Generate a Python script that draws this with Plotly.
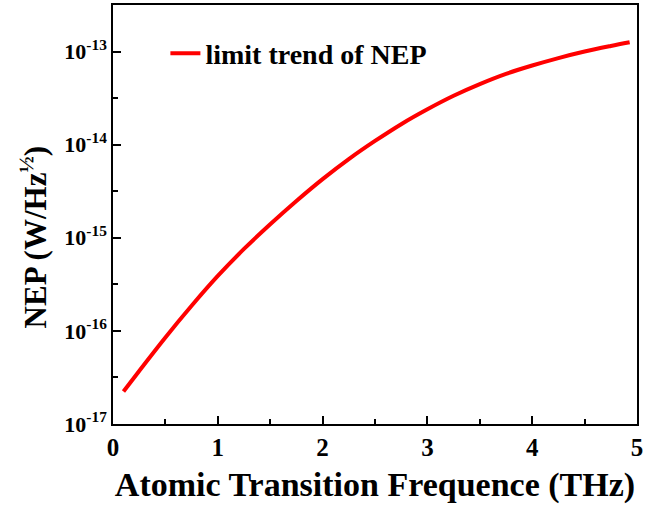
import plotly.graph_objects as go

# Atomic transition frequency (THz)
freq_thz = [0.1, 0.25, 0.5, 0.75, 1.0, 1.25, 1.5, 1.75, 2.0, 2.25, 2.5,
            2.75, 3.0, 3.25, 3.5, 3.75, 4.0, 4.25, 4.5, 4.75, 4.93]
# NEP limit trend (W/Hz^1/2)
nep = [2.239e-17, 3.715e-17, 8.51e-17, 1.862e-16, 3.89e-16, 7.586e-16,
       1.396e-15, 2.483e-15, 4.266e-15, 6.998e-15, 1.096e-14, 1.66e-14,
       2.399e-14, 3.35e-14, 4.467e-14, 5.754e-14, 7.079e-14, 8.511e-14,
       1.0e-13, 1.148e-13, 1.259e-13]

x_ticks = [0, 1, 2, 3, 4, 5]
x_ticktext = ["<b>0</b>", "<b>1</b>", "<b>2</b>", "<b>3</b>", "<b>4</b>", "<b>5</b>"]
y_ticks = [1e-17, 1e-16, 1e-15, 1e-14, 1e-13]
y_ticktext = ["<b>10<sup>-17</sup></b>", "<b>10<sup>-16</sup></b>",
              "<b>10<sup>-15</sup></b>", "<b>10<sup>-14</sup></b>",
              "<b>10<sup>-13</sup></b>"]
y_minor = [10 ** -16.5, 10 ** -15.5, 10 ** -14.5, 10 ** -13.5]

FONT = "Liberation Serif"

fig = go.Figure()
fig.add_trace(go.Scatter(
    x=freq_thz, y=nep, mode="lines", name="<b>limit trend of NEP</b>",
    line=dict(color="#FF0000", width=4, shape="spline"),
))

fig.update_layout(
    width=668, height=511,
    margin=dict(l=113, r=31, t=3, b=87),
    paper_bgcolor="white", plot_bgcolor="white",
    font=dict(family=FONT, color="black"),
    showlegend=True,
    legend=dict(x=0.1, y=0.884, xanchor="left", yanchor="middle",
                bgcolor="rgba(0,0,0,0)",
                font=dict(family=FONT, size=28, color="black")),
    annotations=[dict(
        text="<b>NEP (W/Hz<sup>½</sup>)</b>", textangle=-90,
        xref="paper", yref="paper", x=-0.151, y=0.445,
        xanchor="center", yanchor="middle", showarrow=False,
        font=dict(family=FONT, size=31, color="black"),
    )],
)

fig.update_xaxes(
    range=[0, 5], tickmode="array", tickvals=x_ticks, ticktext=x_ticktext,
    ticks="inside", ticklen=8, tickwidth=1.5, tickcolor="black",
    showline=True, linecolor="black", linewidth=1.5, mirror=True,
    showgrid=False, zeroline=False,
    tickfont=dict(family=FONT, size=25, color="black"),
    minor=dict(tickmode="array", tickvals=[0.5, 1.5, 2.5, 3.5, 4.5],
               ticks="inside", ticklen=5, tickwidth=1.5, tickcolor="black",
               showgrid=False),
    title=dict(text="<b>Atomic Transition Frequence (THz)</b>",
               font=dict(family=FONT, size=34, color="black"), standoff=12),
)

fig.update_yaxes(
    type="log", range=[-17, -12.5], tickmode="array",
    tickvals=y_ticks, ticktext=y_ticktext,
    ticks="inside", ticklen=8, tickwidth=1.5, tickcolor="black",
    showline=True, linecolor="black", linewidth=1.5, mirror=True,
    showgrid=False, zeroline=False,
    tickfont=dict(family=FONT, size=22, color="black"),
    minor=dict(tickmode="array", tickvals=y_minor,
               ticks="inside", ticklen=5, tickwidth=1.5, tickcolor="black",
               showgrid=False),
)

fig.write_html("out.html")
